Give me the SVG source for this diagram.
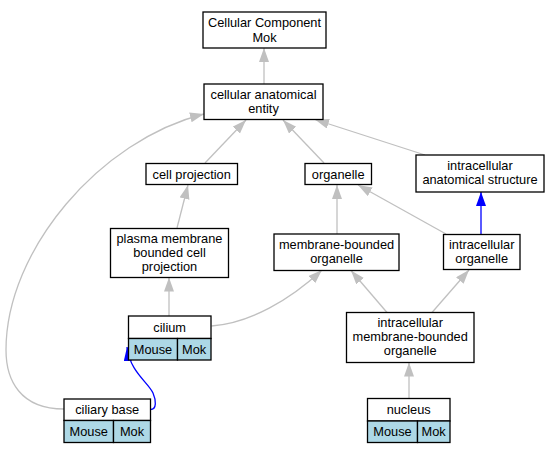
<svg xmlns="http://www.w3.org/2000/svg" width="560" height="453" viewBox="0 0 560 453">
<style>
text{font-family:"Liberation Sans",Arial,sans-serif;font-size:12.8px;fill:#000;text-anchor:middle}
.box{fill:#fff;stroke:#000;stroke-width:1.3}
.cell{fill:#add8e6;stroke:#000;stroke-width:1.3}
.e{fill:none;stroke:#c0c0c0;stroke-width:1.3}
.b{fill:none;stroke:#0000ff;stroke-width:1.3}
</style>
<defs>
<marker id="ag" markerUnits="userSpaceOnUse" markerWidth="15" markerHeight="11" refX="14" refY="5" orient="auto"><path d="M0,0 L14,5 L0,10 z" fill="#c0c0c0"/></marker>
<marker id="ab" markerUnits="userSpaceOnUse" markerWidth="15" markerHeight="11" refX="14" refY="5" orient="auto"><path d="M0,0 L14,5 L0,10 z" fill="#0000ff"/></marker>
</defs>
<rect width="560" height="453" fill="#fff"/>
<g id="edges">
<path class="e" marker-end="url(#ag)" d="M264,84 L264,48"/>
<path class="e" marker-end="url(#ag)" d="M205,163 L246,120"/>
<path class="e" marker-end="url(#ag)" d="M324,163 L283,120"/>
<path class="e" marker-end="url(#ag)" d="M425,155 L315,119.5"/>
<path class="e" marker-end="url(#ag)" d="M177,228 L188,185"/>
<path class="e" marker-end="url(#ag)" d="M337,234 L337,185"/>
<path class="e" marker-end="url(#ag)" d="M446,234 L358,185"/>
<path class="b" marker-end="url(#ab)" d="M481,234 L481,192"/>
<path class="e" marker-end="url(#ag)" d="M169,316 L169,277.5"/>
<path class="e" marker-end="url(#ag)" d="M211.5,326 C250,323 290,300 322,270"/>
<path class="e" marker-end="url(#ag)" d="M387,312.5 L351,270.5"/>
<path class="e" marker-end="url(#ag)" d="M432,312.5 L469,270"/>
<path class="e" marker-end="url(#ag)" d="M409,398.5 L409,362.5"/>
<path class="b" marker-end="url(#ab)" d="M150.5,409.5 C157,409.5 156,400 153,393 C148,382 130,372 127,347"/>
<path class="e" marker-end="url(#ag)" d="M64,409 C20,409 6,380 6,350 C6,250 100,140 204,114"/>
</g>
<g id="ccm"><rect class="box" x="203" y="12" width="123" height="36"/><text x="264.5" y="27">Cellular Component</text><text x="264.5" y="41.5">Mok</text></g>
<g id="cae"><rect class="box" x="204" y="84" width="119" height="35.5"/><text x="263.5" y="98.5">cellular anatomical</text><text x="263.5" y="113">entity</text></g>
<g id="cellproj"><rect class="box" x="146" y="163.5" width="91.5" height="21"/><text x="191.7" y="178.5">cell projection</text></g>
<g id="organelle"><rect class="box" x="305" y="163.5" width="66.5" height="21"/><text x="338.2" y="178.5">organelle</text></g>
<g id="ias"><rect class="box" x="416" y="155" width="128" height="37"/><text x="480" y="169.5">intracellular</text><text x="480" y="184">anatomical structure</text></g>
<g id="io"><rect class="box" x="443.5" y="234.5" width="76.5" height="35"/><text x="481.7" y="248.5">intracellular</text><text x="481.7" y="263">organelle</text></g>
<g id="pmbcp"><rect class="box" x="110.5" y="228.5" width="118" height="49"/><text x="169.5" y="243">plasma membrane</text><text x="169.5" y="257">bounded cell</text><text x="169.5" y="271">projection</text></g>
<g id="mbo"><rect class="box" x="274" y="234" width="125" height="36.5"/><text x="336.5" y="248.5">membrane-bounded</text><text x="336.5" y="263">organelle</text></g>
<g id="imbo"><rect class="box" x="346.5" y="312.5" width="127.5" height="50"/><text x="410.2" y="327">intracellular</text><text x="410.2" y="341">membrane-bounded</text><text x="410.2" y="355">organelle</text></g>
<g id="cilium"><rect class="box" x="128.5" y="316" width="82.5" height="22.5"/><rect class="cell" x="128.5" y="338.5" width="49" height="21.5"/><rect class="cell" x="177.5" y="338.5" width="33.5" height="21.5"/><text x="169.7" y="331.5">cilium</text><text x="153" y="353.5">Mouse</text><text x="194.2" y="353.5">Mok</text></g>
<g id="ciliarybase"><rect class="box" x="64" y="399" width="86.5" height="21.5"/><rect class="cell" x="64" y="420.5" width="49.5" height="22"/><rect class="cell" x="113.5" y="420.5" width="37" height="22"/><text x="107.2" y="414">ciliary base</text><text x="88.7" y="436">Mouse</text><text x="132" y="436">Mok</text></g>
<g id="nucleus"><rect class="box" x="367.5" y="398.5" width="82.5" height="22.5"/><rect class="cell" x="367.5" y="421" width="50" height="21.5"/><rect class="cell" x="417.5" y="421" width="32.5" height="21.5"/><text x="408.7" y="414">nucleus</text><text x="392.5" y="436">Mouse</text><text x="433.7" y="436">Mok</text></g>
</svg>
